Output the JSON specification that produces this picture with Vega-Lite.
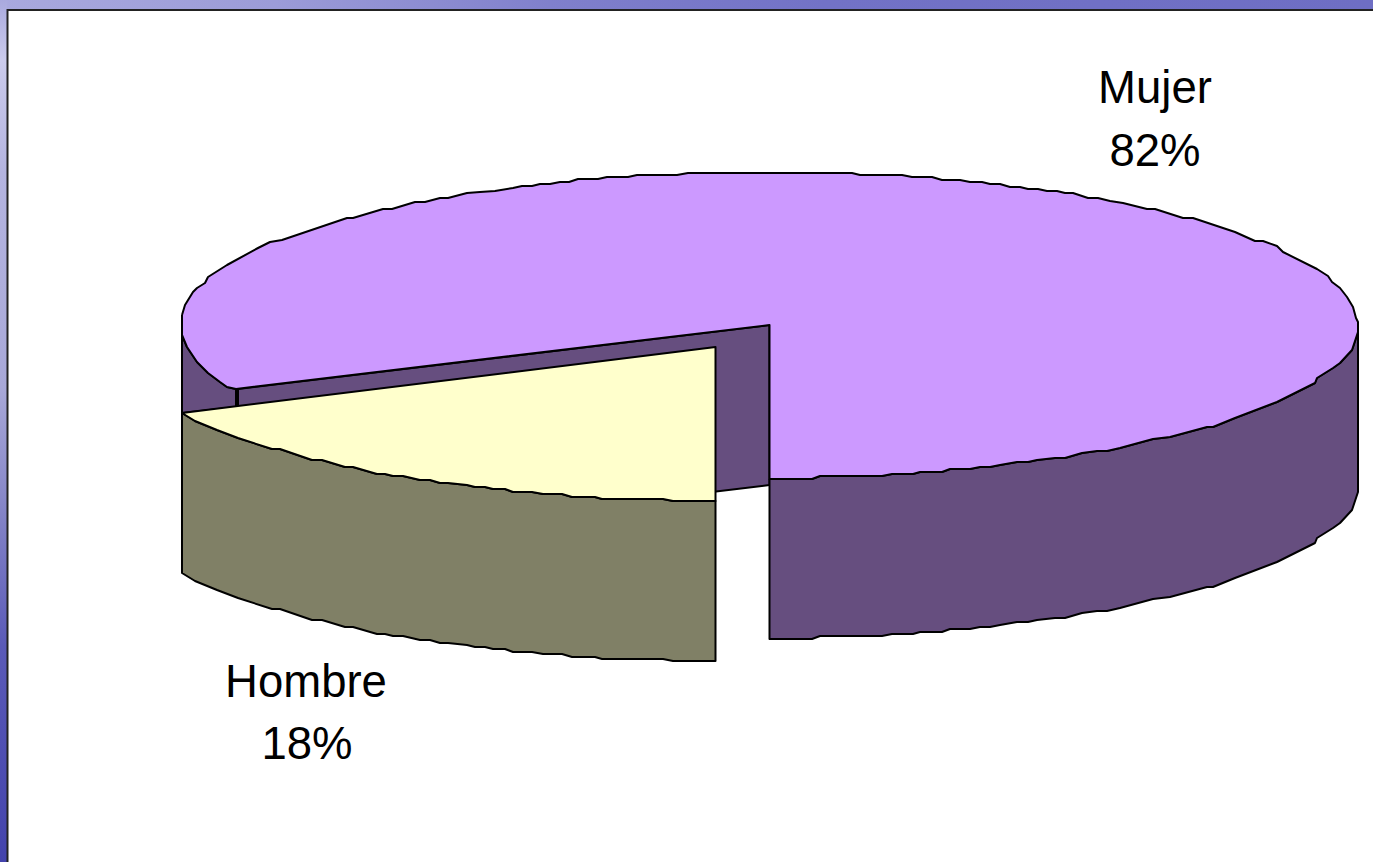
{"$schema":"https://vega.github.io/schema/vega-lite/v6.json","width":1373,"height":862,"padding":0,"autosize":{"type":"none"},"background":"white","view":{"stroke":null},
"datasets":{
"bands":[{"band":"top","x":0,"x2":1373,"y":0,"y2":9},{"band":"left","x":0,"x2":7,"y":0,"y2":862}],
"labels":[{"label":"Mujer","x":1155,"y":89},{"label":"82%","x":1155,"y":152},{"label":"Hombre","x":306,"y":683},{"label":"18%","x":307,"y":745}],
"frame":[{"o":1,"x":1373,"y":10},{"o":2,"x":7.5,"y":10},{"o":3,"x":7.5,"y":862}],
"rightWall":[{"o":1,"x":769.5,"y":479},{"o":2,"x":812,"y":479},{"o":3,"x":820,"y":476},{"o":4,"x":882,"y":476},{"o":5,"x":892,"y":474},{"o":6,"x":913,"y":474},{"o":7,"x":920,"y":472},{"o":8,"x":942,"y":472},{"o":9,"x":950,"y":469},{"o":10,"x":970,"y":469},{"o":11,"x":980,"y":467},{"o":12,"x":990,"y":467},{"o":13,"x":1000,"y":465},{"o":14,"x":1017,"y":462},{"o":15,"x":1028,"y":462},{"o":16,"x":1037,"y":460},{"o":17,"x":1055,"y":458},{"o":18,"x":1065,"y":458},{"o":19,"x":1082,"y":453},{"o":20,"x":1097,"y":451},{"o":21,"x":1107,"y":451},{"o":22,"x":1120,"y":448},{"o":23,"x":1153,"y":439},{"o":24,"x":1170,"y":437},{"o":25,"x":1207,"y":427},{"o":26,"x":1213,"y":427},{"o":27,"x":1235,"y":418},{"o":28,"x":1277,"y":402},{"o":29,"x":1315,"y":383},{"o":30,"x":1317,"y":378},{"o":31,"x":1333,"y":368},{"o":32,"x":1340,"y":363},{"o":33,"x":1352,"y":350},{"o":34,"x":1358,"y":332},{"o":35,"x":1358,"y":492},{"o":36,"x":1352,"y":510},{"o":37,"x":1340,"y":523},{"o":38,"x":1333,"y":528},{"o":39,"x":1317,"y":538},{"o":40,"x":1315,"y":543},{"o":41,"x":1277,"y":562},{"o":42,"x":1235,"y":578},{"o":43,"x":1213,"y":587},{"o":44,"x":1207,"y":587},{"o":45,"x":1170,"y":597},{"o":46,"x":1153,"y":599},{"o":47,"x":1120,"y":608},{"o":48,"x":1107,"y":611},{"o":49,"x":1097,"y":611},{"o":50,"x":1082,"y":613},{"o":51,"x":1065,"y":618},{"o":52,"x":1055,"y":618},{"o":53,"x":1037,"y":620},{"o":54,"x":1028,"y":622},{"o":55,"x":1017,"y":622},{"o":56,"x":1000,"y":625},{"o":57,"x":990,"y":627},{"o":58,"x":980,"y":627},{"o":59,"x":970,"y":629},{"o":60,"x":950,"y":629},{"o":61,"x":942,"y":632},{"o":62,"x":920,"y":632},{"o":63,"x":913,"y":634},{"o":64,"x":892,"y":634},{"o":65,"x":882,"y":636},{"o":66,"x":820,"y":636},{"o":67,"x":812,"y":639},{"o":68,"x":769.5,"y":639},{"o":69,"x":769.5,"y":479}],
"leftWall":[{"o":1,"x":182,"y":335},{"o":2,"x":187,"y":347},{"o":3,"x":197,"y":362},{"o":4,"x":208,"y":373},{"o":5,"x":220,"y":382},{"o":6,"x":227,"y":387},{"o":7,"x":236,"y":389},{"o":8,"x":236,"y":407},{"o":9,"x":182,"y":413},{"o":10,"x":182,"y":335}],
"innerWall":[{"o":1,"x":238,"y":389},{"o":2,"x":769.5,"y":325},{"o":3,"x":769.5,"y":485},{"o":4,"x":238,"y":549},{"o":5,"x":238,"y":389}],
"top":[{"o":1,"x":182,"y":315},{"o":2,"x":185,"y":305},{"o":3,"x":193,"y":292},{"o":4,"x":197,"y":288},{"o":5,"x":205,"y":283},{"o":6,"x":208,"y":277},{"o":7,"x":227,"y":265},{"o":8,"x":258,"y":248},{"o":9,"x":270,"y":242},{"o":10,"x":282,"y":240},{"o":11,"x":347,"y":218},{"o":12,"x":353,"y":218},{"o":13,"x":383,"y":209},{"o":14,"x":392,"y":209},{"o":15,"x":415,"y":202},{"o":16,"x":425,"y":202},{"o":17,"x":440,"y":198},{"o":18,"x":448,"y":198},{"o":19,"x":467,"y":193},{"o":20,"x":480,"y":192},{"o":21,"x":495,"y":191},{"o":22,"x":513,"y":188},{"o":23,"x":522,"y":186},{"o":24,"x":532,"y":186},{"o":25,"x":540,"y":184},{"o":26,"x":550,"y":184},{"o":27,"x":560,"y":182},{"o":28,"x":569,"y":182},{"o":29,"x":578,"y":179},{"o":30,"x":598,"y":179},{"o":31,"x":607,"y":177},{"o":32,"x":628,"y":177},{"o":33,"x":637,"y":175},{"o":34,"x":677,"y":175},{"o":35,"x":688,"y":173},{"o":36,"x":852,"y":173},{"o":37,"x":860,"y":175},{"o":38,"x":902,"y":175},{"o":39,"x":912,"y":177},{"o":40,"x":932,"y":177},{"o":41,"x":942,"y":180},{"o":42,"x":960,"y":180},{"o":43,"x":970,"y":182},{"o":44,"x":982,"y":182},{"o":45,"x":990,"y":184},{"o":46,"x":1000,"y":184},{"o":47,"x":1010,"y":187},{"o":48,"x":1020,"y":187},{"o":49,"x":1028,"y":189},{"o":50,"x":1038,"y":189},{"o":51,"x":1047,"y":191},{"o":52,"x":1057,"y":191},{"o":53,"x":1065,"y":193},{"o":54,"x":1073,"y":193},{"o":55,"x":1088,"y":198},{"o":56,"x":1098,"y":198},{"o":57,"x":1110,"y":201},{"o":58,"x":1123,"y":203},{"o":59,"x":1147,"y":209},{"o":60,"x":1155,"y":209},{"o":61,"x":1183,"y":218},{"o":62,"x":1193,"y":218},{"o":63,"x":1235,"y":232},{"o":64,"x":1255,"y":241},{"o":65,"x":1263,"y":241},{"o":66,"x":1277,"y":246},{"o":67,"x":1283,"y":252},{"o":68,"x":1317,"y":269},{"o":69,"x":1328,"y":276},{"o":70,"x":1332,"y":282},{"o":71,"x":1340,"y":288},{"o":72,"x":1347,"y":297},{"o":73,"x":1353,"y":307},{"o":74,"x":1356,"y":318},{"o":75,"x":1358,"y":322},{"o":76,"x":1358,"y":332},{"o":77,"x":1352,"y":350},{"o":78,"x":1340,"y":363},{"o":79,"x":1333,"y":368},{"o":80,"x":1317,"y":378},{"o":81,"x":1315,"y":383},{"o":82,"x":1277,"y":402},{"o":83,"x":1235,"y":418},{"o":84,"x":1213,"y":427},{"o":85,"x":1207,"y":427},{"o":86,"x":1170,"y":437},{"o":87,"x":1153,"y":439},{"o":88,"x":1120,"y":448},{"o":89,"x":1107,"y":451},{"o":90,"x":1097,"y":451},{"o":91,"x":1082,"y":453},{"o":92,"x":1065,"y":458},{"o":93,"x":1055,"y":458},{"o":94,"x":1037,"y":460},{"o":95,"x":1028,"y":462},{"o":96,"x":1017,"y":462},{"o":97,"x":1000,"y":465},{"o":98,"x":990,"y":467},{"o":99,"x":980,"y":467},{"o":100,"x":970,"y":469},{"o":101,"x":950,"y":469},{"o":102,"x":942,"y":472},{"o":103,"x":920,"y":472},{"o":104,"x":913,"y":474},{"o":105,"x":892,"y":474},{"o":106,"x":882,"y":476},{"o":107,"x":820,"y":476},{"o":108,"x":812,"y":479},{"o":109,"x":769.5,"y":479},{"o":110,"x":769.5,"y":325},{"o":111,"x":236,"y":389},{"o":112,"x":227,"y":387},{"o":113,"x":220,"y":382},{"o":114,"x":208,"y":373},{"o":115,"x":197,"y":362},{"o":116,"x":187,"y":347},{"o":117,"x":182,"y":335},{"o":118,"x":182,"y":315}],
"olive":[{"o":1,"x":182,"y":413},{"o":2,"x":195,"y":421},{"o":3,"x":217,"y":430},{"o":4,"x":238,"y":438},{"o":5,"x":272,"y":449},{"o":6,"x":280,"y":449},{"o":7,"x":312,"y":460},{"o":8,"x":322,"y":460},{"o":9,"x":345,"y":467},{"o":10,"x":353,"y":467},{"o":11,"x":377,"y":474},{"o":12,"x":385,"y":474},{"o":13,"x":393,"y":476},{"o":14,"x":403,"y":476},{"o":15,"x":420,"y":480},{"o":16,"x":430,"y":480},{"o":17,"x":440,"y":483},{"o":18,"x":448,"y":483},{"o":19,"x":467,"y":485},{"o":20,"x":475,"y":487},{"o":21,"x":485,"y":487},{"o":22,"x":493,"y":489},{"o":23,"x":505,"y":489},{"o":24,"x":513,"y":492},{"o":25,"x":532,"y":492},{"o":26,"x":543,"y":494},{"o":27,"x":562,"y":494},{"o":28,"x":572,"y":497},{"o":29,"x":595,"y":497},{"o":30,"x":602,"y":499},{"o":31,"x":663,"y":499},{"o":32,"x":673,"y":501},{"o":33,"x":715.5,"y":501},{"o":34,"x":715.5,"y":661},{"o":35,"x":673,"y":661},{"o":36,"x":663,"y":659},{"o":37,"x":602,"y":659},{"o":38,"x":595,"y":657},{"o":39,"x":572,"y":657},{"o":40,"x":562,"y":654},{"o":41,"x":543,"y":654},{"o":42,"x":532,"y":652},{"o":43,"x":513,"y":652},{"o":44,"x":505,"y":649},{"o":45,"x":493,"y":649},{"o":46,"x":485,"y":647},{"o":47,"x":475,"y":647},{"o":48,"x":467,"y":645},{"o":49,"x":448,"y":643},{"o":50,"x":440,"y":643},{"o":51,"x":430,"y":640},{"o":52,"x":420,"y":640},{"o":53,"x":403,"y":636},{"o":54,"x":393,"y":636},{"o":55,"x":385,"y":634},{"o":56,"x":377,"y":634},{"o":57,"x":353,"y":627},{"o":58,"x":345,"y":627},{"o":59,"x":322,"y":620},{"o":60,"x":312,"y":620},{"o":61,"x":280,"y":609},{"o":62,"x":272,"y":609},{"o":63,"x":238,"y":598},{"o":64,"x":217,"y":590},{"o":65,"x":195,"y":581},{"o":66,"x":182,"y":573},{"o":67,"x":182,"y":413}],
"yellow":[{"o":1,"x":182,"y":413},{"o":2,"x":195,"y":421},{"o":3,"x":217,"y":430},{"o":4,"x":238,"y":438},{"o":5,"x":272,"y":449},{"o":6,"x":280,"y":449},{"o":7,"x":312,"y":460},{"o":8,"x":322,"y":460},{"o":9,"x":345,"y":467},{"o":10,"x":353,"y":467},{"o":11,"x":377,"y":474},{"o":12,"x":385,"y":474},{"o":13,"x":393,"y":476},{"o":14,"x":403,"y":476},{"o":15,"x":420,"y":480},{"o":16,"x":430,"y":480},{"o":17,"x":440,"y":483},{"o":18,"x":448,"y":483},{"o":19,"x":467,"y":485},{"o":20,"x":475,"y":487},{"o":21,"x":485,"y":487},{"o":22,"x":493,"y":489},{"o":23,"x":505,"y":489},{"o":24,"x":513,"y":492},{"o":25,"x":532,"y":492},{"o":26,"x":543,"y":494},{"o":27,"x":562,"y":494},{"o":28,"x":572,"y":497},{"o":29,"x":595,"y":497},{"o":30,"x":602,"y":499},{"o":31,"x":663,"y":499},{"o":32,"x":673,"y":501},{"o":33,"x":715.5,"y":501},{"o":34,"x":715.5,"y":347},{"o":35,"x":182,"y":413}]
},
"layer":[
{"data":{"name":"bands"},"transform":[{"filter":"datum.band=='top'"}],"mark":{"type":"rect","color":{"gradient":"linear","x1":0,"x2":1,"y1":0,"y2":0,"stops":[{"offset":0,"color":"#a9a9de"},{"offset":0.2,"color":"#9c9cd8"},{"offset":0.4,"color":"#8080cc"},{"offset":0.6,"color":"#7272c6"},{"offset":1,"color":"#6e6ec4"}]}},"encoding":{"x":{"field":"x","type":"quantitative","scale":{"domain":[0,1373]},"axis":null},"x2":{"field":"x2"},"y":{"field":"y","type":"quantitative","scale":{"domain":[862,0]},"axis":null},"y2":{"field":"y2"}}},
{"data":{"name":"bands"},"transform":[{"filter":"datum.band=='left'"}],"mark":{"type":"rect","color":{"gradient":"linear","x1":0,"x2":0,"y1":0,"y2":1,"stops":[{"offset":0,"color":"#a9a9de"},{"offset":0.07,"color":"#cbcbec"},{"offset":0.2,"color":"#b4b4e0"},{"offset":0.45,"color":"#a8a8d8"},{"offset":0.6,"color":"#8282c6"},{"offset":0.75,"color":"#5a5ab8"},{"offset":1,"color":"#4343ac"}]}},"encoding":{"x":{"field":"x","type":"quantitative","scale":{"domain":[0,1373]},"axis":null},"x2":{"field":"x2"},"y":{"field":"y","type":"quantitative","scale":{"domain":[862,0]},"axis":null},"y2":{"field":"y2"}}},
{"data":{"name":"frame"},"mark":{"type":"line","stroke":"#222222","strokeWidth":2,"clip":true},"encoding":{"x":{"field":"x","type":"quantitative","scale":{"domain":[0,1373]},"axis":null},"y":{"field":"y","type":"quantitative","scale":{"domain":[862,0]},"axis":null},"order":{"field":"o"}}},
{"data":{"name":"leftWall"},"mark":{"type":"line","fill":"#664E7F","stroke":"black","strokeWidth":2,"strokeJoin":"round"},"encoding":{"x":{"field":"x","type":"quantitative","scale":{"domain":[0,1373]},"axis":null},"y":{"field":"y","type":"quantitative","scale":{"domain":[862,0]},"axis":null},"order":{"field":"o"}}},
{"data":{"name":"innerWall"},"mark":{"type":"line","fill":"#664E7F","stroke":"black","strokeWidth":2,"strokeJoin":"round"},"encoding":{"x":{"field":"x","type":"quantitative","scale":{"domain":[0,1373]},"axis":null},"y":{"field":"y","type":"quantitative","scale":{"domain":[862,0]},"axis":null},"order":{"field":"o"}}},
{"data":{"name":"rightWall"},"mark":{"type":"line","fill":"#664E7F","stroke":"black","strokeWidth":2,"strokeJoin":"round"},"encoding":{"x":{"field":"x","type":"quantitative","scale":{"domain":[0,1373]},"axis":null},"y":{"field":"y","type":"quantitative","scale":{"domain":[862,0]},"axis":null},"order":{"field":"o"}}},
{"data":{"name":"top"},"mark":{"type":"line","fill":"#CC99FF","stroke":"black","strokeWidth":2,"strokeJoin":"round"},"encoding":{"x":{"field":"x","type":"quantitative","scale":{"domain":[0,1373]},"axis":null},"y":{"field":"y","type":"quantitative","scale":{"domain":[862,0]},"axis":null},"order":{"field":"o"}}},
{"data":{"name":"olive"},"mark":{"type":"line","fill":"#808066","stroke":"black","strokeWidth":2,"strokeJoin":"round"},"encoding":{"x":{"field":"x","type":"quantitative","scale":{"domain":[0,1373]},"axis":null},"y":{"field":"y","type":"quantitative","scale":{"domain":[862,0]},"axis":null},"order":{"field":"o"}}},
{"data":{"name":"yellow"},"mark":{"type":"line","fill":"#FFFFCC","stroke":"black","strokeWidth":2,"strokeJoin":"round"},"encoding":{"x":{"field":"x","type":"quantitative","scale":{"domain":[0,1373]},"axis":null},"y":{"field":"y","type":"quantitative","scale":{"domain":[862,0]},"axis":null},"order":{"field":"o"}}},
{"data":{"name":"labels"},"mark":{"type":"text","font":"Liberation Sans","fontSize":45.5,"color":"black","align":"center","baseline":"middle"},"encoding":{"x":{"field":"x","type":"quantitative","scale":{"domain":[0,1373]},"axis":null},"y":{"field":"y","type":"quantitative","scale":{"domain":[862,0]},"axis":null},"text":{"field":"label"}}}
]}
